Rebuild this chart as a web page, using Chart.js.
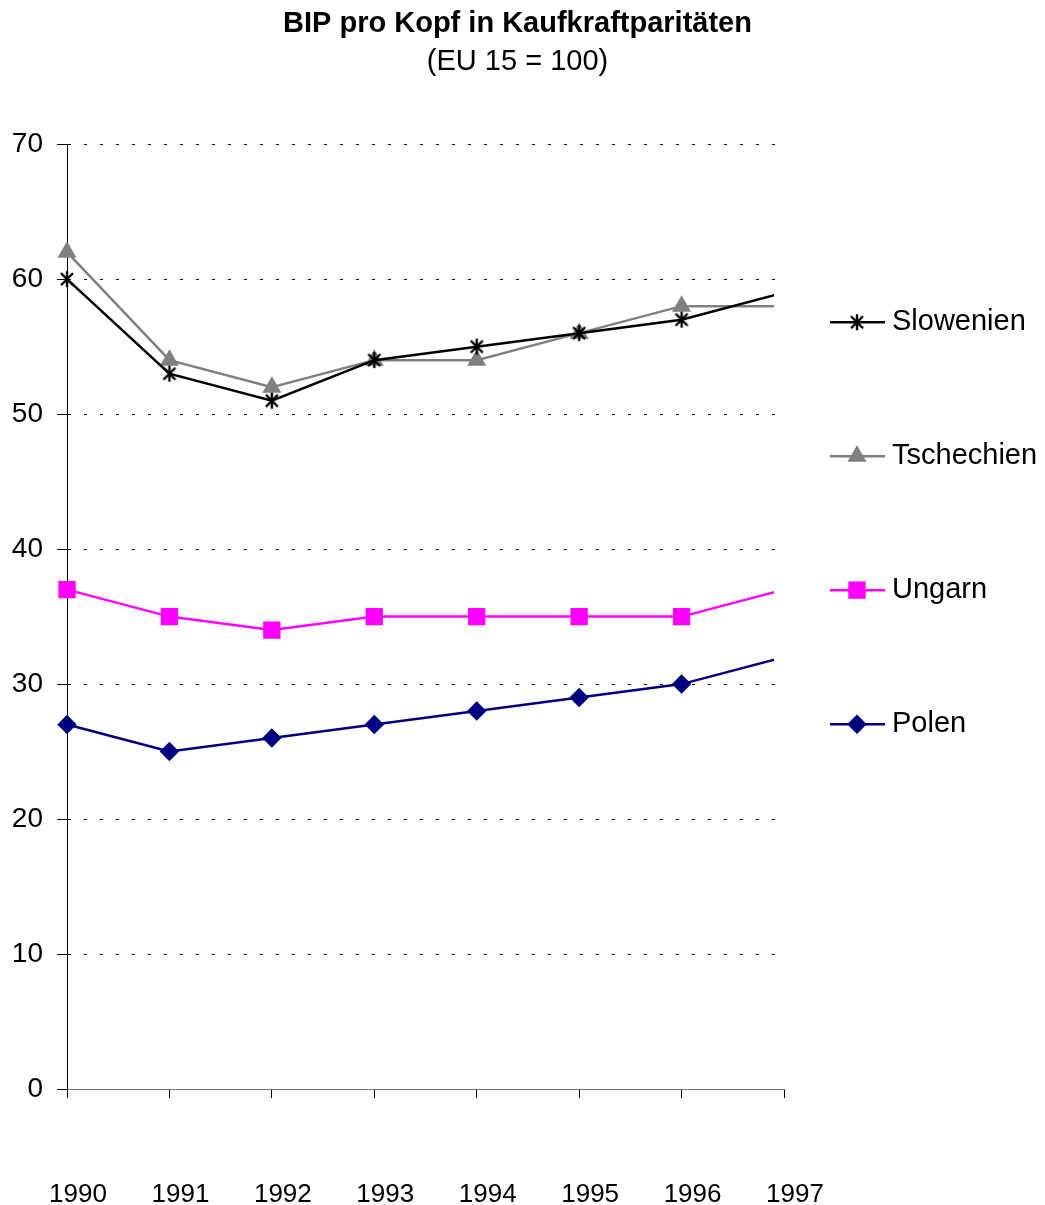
<!DOCTYPE html>
<html>
<head>
<meta charset="utf-8">
<title>BIP pro Kopf in Kaufkraftparitäten</title>
<script src="https://cdn.jsdelivr.net/npm/chart.js@4.4.1/dist/chart.umd.min.js"></script>
<style>
  html, body { margin: 0; padding: 0; background: #fff; }
  #wrap { width: 1045px; height: 1205px; }
</style>
</head>
<body>
<div id="wrap"><canvas id="bipChart" width="1045" height="1205"></canvas></div>
<script>
// Data (EU 15 = 100)
const years = ["1990", "1991", "1992", "1993", "1994", "1995", "1996", "1997"];
const slowenien = [60, 53, 51, 54, 55, 56, 57, 59];
const tschechien = [62, 54, 52, 54, 54, 56, 58, 58];
const ungarn = [37, 35, 34, 35, 35, 35, 35, 37];
const polen = [27, 25, 26, 27, 28, 29, 30, 32];
const yTicks = [0, 10, 20, 30, 40, 50, 60, 70];

const FONT = "Arial, 'Liberation Sans', sans-serif";

// asterisk marker like the old Excel "star" (vertical + X)
function makeStar(size, color) {
  const c = document.createElement("canvas");
  c.width = size;
  c.height = size;
  const g = c.getContext("2d");
  g.strokeStyle = color;
  g.lineWidth = 2.4;
  const m = size / 2, r = size / 2 - 1, d = r * 0.75;
  g.beginPath();
  g.moveTo(m, m - r); g.lineTo(m, m + r);
  g.moveTo(m - d, m - d); g.lineTo(m + d, m + d);
  g.moveTo(m + d, m - d); g.lineTo(m - d, m + d);
  g.stroke();
  return c;
}
const starImg = makeStar(18, "#000000");

// Legend on the right: line sample + marker + name
const sideLegend = {
  id: "sideLegend",
  afterDraw(chart) {
    const ctx = chart.ctx;
    const area = chart.chartArea;
    const x0 = area.right + 46;
    const firstRow = area.top + 178;
    const rowGap = 134;
    chart.data.datasets.forEach((ds, i) => {
      const y = firstRow + i * rowGap;
      ctx.save();
      ctx.strokeStyle = ds.borderColor;
      ctx.lineWidth = ds.borderWidth;
      ctx.beginPath();
      ctx.moveTo(x0, y);
      ctx.lineTo(x0 + 55, y);
      ctx.stroke();
      ctx.fillStyle = ds.pointBackgroundColor;
      ctx.strokeStyle = ds.pointBorderColor;
      Chart.helpers.drawPoint(ctx, {
        pointStyle: ds.pointStyle,
        radius: ds.pointRadius,
        borderWidth: 1,
        rotation: 0
      }, x0 + 27, y);
      ctx.fillStyle = "#000";
      ctx.font = "29px " + FONT;
      ctx.textAlign = "left";
      ctx.textBaseline = "middle";
      ctx.fillText(ds.label, x0 + 62, y);
      ctx.restore();
    });
  }
};

const clipRight = { left: 12, top: 12, right: -10, bottom: 12 };

new Chart(document.getElementById("bipChart"), {
  type: "line",
  data: {
    labels: years,
    datasets: [
      {
        label: "Slowenien",
        data: slowenien,
        borderColor: "#000000",
        borderWidth: 2.5,
        pointStyle: starImg,
        pointRadius: 8,
        pointBackgroundColor: "#000000",
        pointBorderColor: "#000000",
        clip: clipRight
      },
      {
        label: "Tschechien",
        data: tschechien,
        borderColor: "#808080",
        borderWidth: 2.5,
        pointStyle: "triangle",
        pointRadius: 8.5,
        pointBackgroundColor: "#808080",
        pointBorderColor: "#808080",
        clip: clipRight
      },
      {
        label: "Ungarn",
        data: ungarn,
        borderColor: "#FF00FF",
        borderWidth: 2.5,
        pointStyle: "rect",
        pointRadius: 10.5,
        pointBackgroundColor: "#FF00FF",
        pointBorderColor: "#FF00FF",
        clip: clipRight
      },
      {
        label: "Polen",
        data: polen,
        borderColor: "#000080",
        borderWidth: 2.5,
        pointStyle: "rectRot",
        pointRadius: 8,
        pointBackgroundColor: "#000080",
        pointBorderColor: "#000080",
        clip: clipRight
      }
    ]
  },
  options: {
    responsive: false,
    animation: false,
    layout: { padding: { left: 0, right: 10, top: 0, bottom: 0 } },
    plugins: {
      legend: { display: false },
      tooltip: { enabled: false },
      title: {
        display: true,
        text: "BIP pro Kopf in Kaufkraftparitäten",
        color: "#000",
        font: { family: FONT, size: 29, weight: "bold" },
        padding: { top: 7, bottom: 3 }
      },
      subtitle: {
        display: true,
        text: "(EU 15 = 100)",
        color: "#000",
        font: { family: FONT, size: 29, weight: "normal" },
        padding: { top: 0, bottom: 64.6 }
      }
    },
    scales: {
      x: {
        type: "category",
        offset: false,
        afterFit(scale) {
          scale.height = 116;
          scale.paddingLeft = 0;
          scale.paddingRight = 261; // room for the legend
        },
        grid: {
          drawOnChartArea: false,
          drawTicks: true,
          tickLength: 9,
          color: "#000"
        },
        border: { display: true, color: "#707070", width: 1 },
        ticks: {
          color: "#000",
          font: { family: FONT, size: 26 },
          padding: 81,
          labelOffset: 11,
          maxRotation: 0,
          autoSkip: false
        }
      },
      y: {
        min: 0,
        max: 70,
        afterFit(scale) { scale.width = 67; },
        afterBuildTicks(scale) { scale.ticks = yTicks.map(v => ({ value: v })); },
        grid: {
          color: (c) => (c.tick && c.tick.value === 0 ? "rgba(0,0,0,0)" : "#000"),
          tickColor: "#000",
          tickLength: 10,
          lineWidth: 1
        },
        border: { display: true, color: "#000", width: 1, dash: [3, 13] },
        ticks: {
          color: "#000",
          font: { family: FONT, size: 28 },
          padding: 14
        }
      }
    }
  },
  plugins: [sideLegend]
});
</script>
</body>
</html>
